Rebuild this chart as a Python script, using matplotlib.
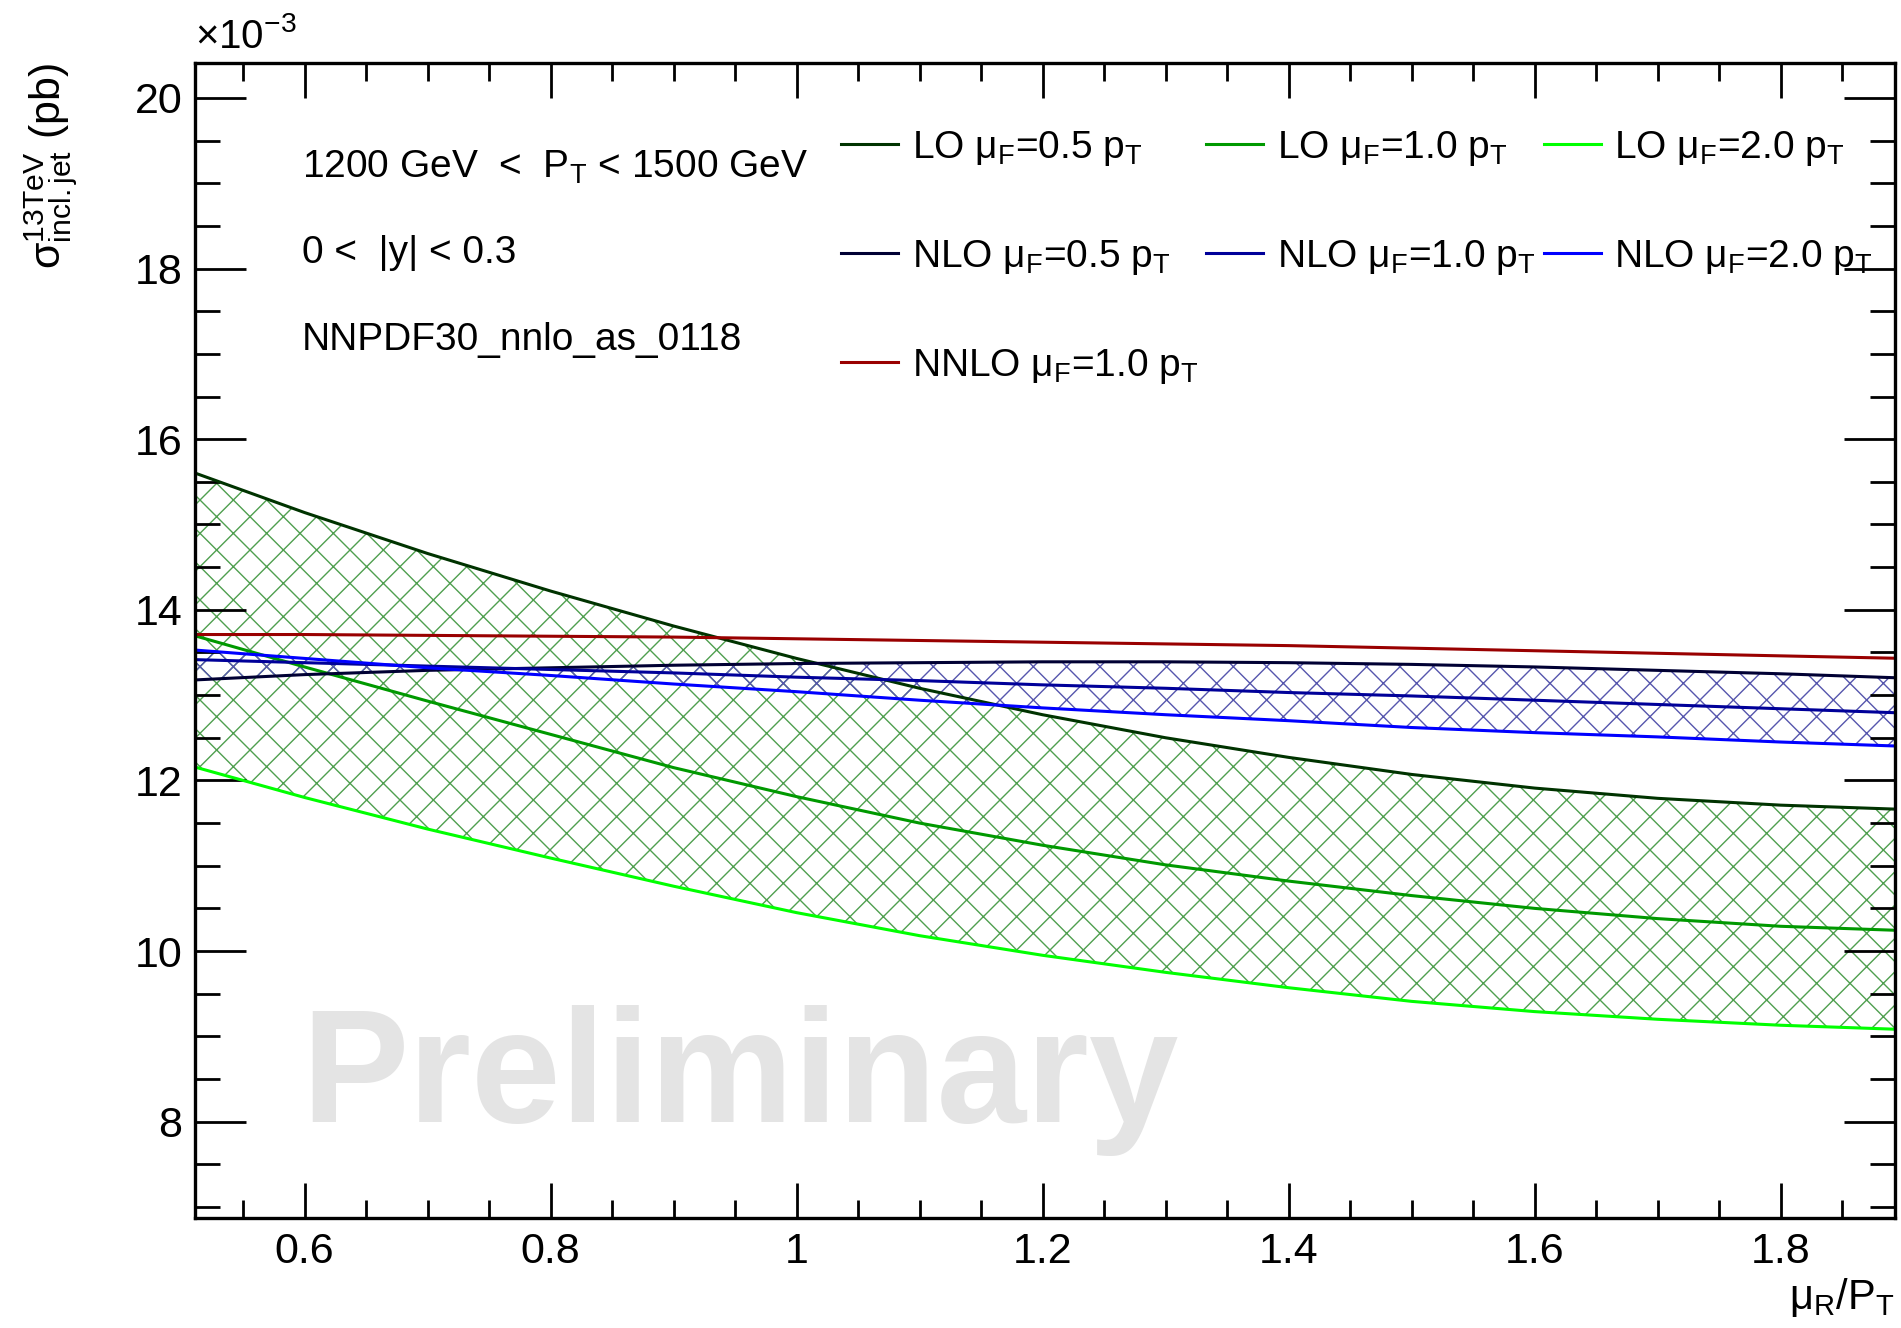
import matplotlib
matplotlib.use("Agg")
import matplotlib.pyplot as plt
from matplotlib.ticker import MultipleLocator, FuncFormatter

plt.rcParams['font.family'] = ['Liberation Sans', 'DejaVu Sans']
plt.rcParams['mathtext.fontset'] = 'custom'
plt.rcParams['mathtext.rm'] = 'Liberation Sans'
plt.rcParams['mathtext.it'] = 'Liberation Sans:italic'
plt.rcParams['mathtext.bf'] = 'Liberation Sans:bold'
plt.rcParams['hatch.linewidth'] = 1.0

# mu_R / p_T scan points
mur = [0.5, 0.6, 0.7, 0.8, 0.9, 1.0, 1.1, 1.2, 1.3, 1.4, 1.5, 1.6, 1.7, 1.8, 1.9]

# cross sections in units of 1e-3 pb
lo_05 = [15.66, 15.14, 14.66, 14.22, 13.81, 13.43, 13.08, 12.77, 12.50, 12.27, 12.07, 11.91, 11.79, 11.71, 11.66]
lo_10 = [13.74, 13.33, 12.93, 12.54, 12.15, 11.81, 11.50, 11.24, 11.01, 10.82, 10.65, 10.50, 10.38, 10.29, 10.24]
lo_20 = [12.20, 11.80, 11.43, 11.09, 10.76, 10.45, 10.18, 9.95, 9.75, 9.57, 9.41, 9.29, 9.20, 9.13, 9.08]
nlo_05 = [13.17, 13.24, 13.29, 13.32, 13.35, 13.37, 13.38, 13.39, 13.39, 13.38, 13.36, 13.33, 13.29, 13.25, 13.20]
nlo_10 = [13.42, 13.38, 13.34, 13.30, 13.26, 13.21, 13.17, 13.12, 13.08, 13.03, 12.99, 12.94, 12.89, 12.84, 12.79]
nlo_20 = [13.54, 13.43, 13.32, 13.23, 13.13, 13.04, 12.94, 12.85, 12.77, 12.70, 12.62, 12.56, 12.51, 12.45, 12.40]
nnlo_10 = [13.71, 13.71, 13.70, 13.69, 13.68, 13.66, 13.64, 13.62, 13.60, 13.58, 13.55, 13.52, 13.49, 13.46, 13.43]

fig = plt.figure(figsize=(19.01, 13.28), dpi=100)
ax = fig.add_axes([0.1026, 0.0828, 0.8942, 0.8698])

# scale variation envelopes
lo_hi = [max(a, b, c) for a, b, c in zip(lo_05, lo_10, lo_20)]
lo_lo = [min(a, b, c) for a, b, c in zip(lo_05, lo_10, lo_20)]
nlo_hi = [max(a, b, c) for a, b, c in zip(nlo_05, nlo_10, nlo_20)]
nlo_lo = [min(a, b, c) for a, b, c in zip(nlo_05, nlo_10, nlo_20)]
ax.fill_between(mur, lo_lo, lo_hi, facecolor='none', edgecolor='#4f9f4f',
                hatch='x', linewidth=0, zorder=1)
ax.fill_between(mur, nlo_lo, nlo_hi, facecolor='none', edgecolor='#5656ad',
                hatch='x', linewidth=0, zorder=1)

lw = 2.2
l1, = ax.plot(mur, lo_05, color='#003300', lw=lw, label=r'LO $\mathrm{\mu_F}$=0.5 $\mathrm{p_T}$')
l2, = ax.plot(mur, lo_10, color='#009900', lw=lw, label=r'LO $\mathrm{\mu_F}$=1.0 $\mathrm{p_T}$')
l3, = ax.plot(mur, lo_20, color='#00ff00', lw=lw, label=r'LO $\mathrm{\mu_F}$=2.0 $\mathrm{p_T}$')
l4, = ax.plot(mur, nlo_05, color='#000033', lw=lw, label=r'NLO $\mathrm{\mu_F}$=0.5 $\mathrm{p_T}$')
l5, = ax.plot(mur, nlo_10, color='#000099', lw=lw, label=r'NLO $\mathrm{\mu_F}$=1.0 $\mathrm{p_T}$')
l6, = ax.plot(mur, nlo_20, color='#0000ff', lw=lw, label=r'NLO $\mathrm{\mu_F}$=2.0 $\mathrm{p_T}$')
l7, = ax.plot(mur, nnlo_10, color='#990000', lw=lw, label=r'NNLO $\mathrm{\mu_F}$=1.0 $\mathrm{p_T}$')

ax.set_xlim(0.511, 1.893)
ax.set_ylim(6.87, 20.41)

ax.text(0.597, 8.0, 'Preliminary', fontsize=116, fontweight='bold',
        color='#e4e4e4', zorder=0, va='baseline')

ax.text(0.598, 19.06, r'1200 GeV  <  $\mathrm{P_T}$ < 1500 GeV', fontsize=28, va='baseline')
ax.text(0.598, 18.06, '0 <  |y| < 0.3', fontsize=28, va='baseline')
ax.text(0.598, 17.05, 'NNPDF30_nnlo_as_0118', fontsize=28, va='baseline')

# legend filled column by column: rows LO / NLO / NNLO
handles = [l1, l4, l7, l2, l5, l3, l6]
ax.legend(handles=handles, ncol=3, loc='upper left', bbox_to_anchor=(0.38, 0.943),
          frameon=False, fontsize=28, handlelength=1.47, handletextpad=0.35,
          columnspacing=0.2, labelspacing=1.8, borderaxespad=0, borderpad=0)

# axis frame and ticks
for s in ax.spines.values():
    s.set_linewidth(2.4)
ax.xaxis.set_major_locator(MultipleLocator(0.2))
ax.xaxis.set_minor_locator(MultipleLocator(0.05))
ax.yaxis.set_major_locator(MultipleLocator(2))
ax.yaxis.set_minor_locator(MultipleLocator(0.5))
ax.tick_params(which='both', direction='in', top=True, right=True, width=2)
ax.tick_params(axis='x', which='major', length=25, labelsize=31, pad=10)
ax.tick_params(axis='x', which='minor', length=13)
ax.tick_params(axis='y', which='major', length=37, labelsize=31, pad=9)
ax.tick_params(axis='y', which='minor', length=18)
ax.xaxis.set_major_formatter(FuncFormatter(lambda v, p: f'{v:g}'))

ax.text(0.0, 1.006, r'$\times$10$^{\mathrm{-3}}$', transform=ax.transAxes,
        fontsize=29, va='bottom', ha='left')

fig.text(0.027, 0.953, r'$\mathrm{\sigma^{13TeV}_{incl.jet}}$ (pb)', rotation=90,
         fontsize=31, va='top', ha='center')
fig.text(0.9968, 0.014, r'$\mathrm{\mu_R/P_T}$', fontsize=30, ha='right', va='baseline')

fig.savefig('out.png', dpi=100)
